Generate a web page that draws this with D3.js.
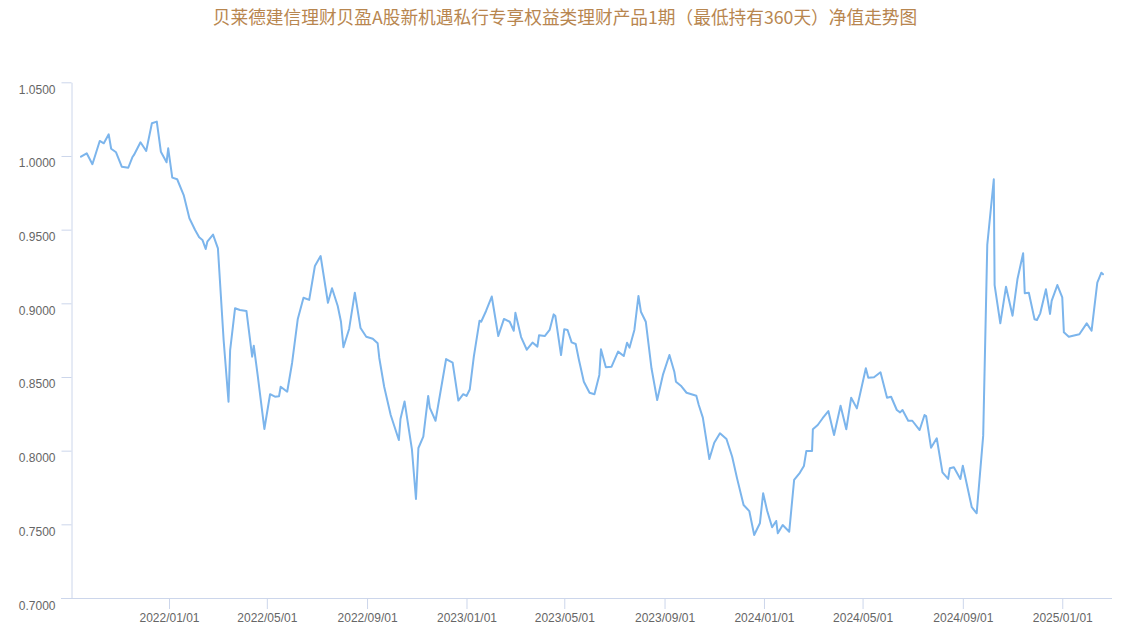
<!DOCTYPE html>
<html>
<head>
<meta charset="utf-8">
<script src="https://cdn.jsdelivr.net/npm/d3@7"></script>
<style>
  html, body { margin: 0; padding: 0; background: #ffffff; }
  svg { display: block; }
</style>
</head>
<body>
<div id="chart"></div>
<script>
const titleText = "贝莱德建信理财贝盈A股新机遇私行专享权益类理财产品1期（最低持有360天）净值走势图";

const dates = [
  "2021-09-15","2021-09-22","2021-09-29","2021-10-08","2021-10-13","2021-10-19","2021-10-22","2021-10-28",
  "2021-11-04","2021-11-12","2021-11-17","2021-11-19","2021-11-27","2021-12-04","2021-12-11","2021-12-17",
  "2021-12-22","2021-12-29","2021-12-31","2022-01-05","2022-01-11","2022-01-19","2022-01-26","2022-02-02",
  "2022-02-07","2022-02-11","2022-02-15","2022-02-17","2022-02-24","2022-03-02","2022-03-09","2022-03-15",
  "2022-03-17","2022-03-23","2022-03-29","2022-04-06","2022-04-13","2022-04-15","2022-04-20","2022-04-28",
  "2022-05-05","2022-05-11","2022-05-16","2022-05-18","2022-05-26","2022-06-01","2022-06-08","2022-06-15",
  "2022-06-22","2022-06-29","2022-07-06","2022-07-15","2022-07-20","2022-07-27","2022-07-31","2022-08-03",
  "2022-08-10","2022-08-17","2022-08-24","2022-08-31","2022-09-08","2022-09-14","2022-09-16","2022-09-22",
  "2022-09-30","2022-10-10","2022-10-12","2022-10-17","2022-10-26","2022-10-31","2022-11-03","2022-11-09",
  "2022-11-15","2022-11-17","2022-11-24","2022-12-07","2022-12-15","2022-12-22","2022-12-28","2023-01-01",
  "2023-01-05","2023-01-10","2023-01-17","2023-01-19","2023-01-25","2023-02-01","2023-02-09","2023-02-16",
  "2023-02-23","2023-02-28","2023-03-02","2023-03-09","2023-03-16","2023-03-23","2023-03-29","2023-03-31",
  "2023-04-07","2023-04-13","2023-04-18","2023-04-20","2023-04-27","2023-05-01","2023-05-05","2023-05-10",
  "2023-05-15","2023-05-19","2023-05-25","2023-06-01","2023-06-07","2023-06-13","2023-06-15","2023-06-21",
  "2023-06-28","2023-07-06","2023-07-13","2023-07-17","2023-07-20","2023-07-26","2023-07-31","2023-08-03",
  "2023-08-09","2023-08-16","2023-08-23","2023-08-30","2023-09-07","2023-09-13","2023-09-15","2023-09-21",
  "2023-09-28","2023-10-10","2023-10-13","2023-10-18","2023-10-26","2023-11-01","2023-11-08","2023-11-16",
  "2023-11-23","2023-11-29","2023-12-07","2023-12-14","2023-12-20","2023-12-27","2023-12-31","2024-01-05",
  "2024-01-11","2024-01-16","2024-01-18","2024-01-24","2024-02-01","2024-02-07","2024-02-14","2024-02-19",
  "2024-02-22","2024-02-29","2024-03-01","2024-03-07","2024-03-13","2024-03-20","2024-03-27","2024-04-04",
  "2024-04-11","2024-04-17","2024-04-24","2024-05-05","2024-05-08","2024-05-15","2024-05-23","2024-05-31",
  "2024-06-05","2024-06-12","2024-06-16","2024-06-19","2024-06-26","2024-07-01","2024-07-10","2024-07-16",
  "2024-07-18","2024-07-24","2024-07-31","2024-08-07","2024-08-14","2024-08-16","2024-08-21","2024-08-29",
  "2024-09-01","2024-09-12","2024-09-18","2024-09-26","2024-10-01","2024-10-09","2024-10-10","2024-10-17",
  "2024-10-24","2024-11-01","2024-11-07","2024-11-14","2024-11-16","2024-11-21","2024-11-28","2024-12-01",
  "2024-12-05","2024-12-12","2024-12-17","2024-12-19","2024-12-26","2025-01-01","2025-01-03","2025-01-09",
  "2025-01-22","2025-01-31","2025-02-06","2025-02-13","2025-02-18","2025-02-20"
];

const navs = [
  0.9995,1.0018,0.9944,1.0102,1.0086,1.0147,1.0049,1.0025,
  0.9927,0.9920,0.9991,1.0007,1.0093,1.0034,1.0222,1.0233,
  1.0029,0.9957,1.0052,0.9853,0.9842,0.9735,0.9577,0.9498,
  0.9448,0.9430,0.9369,0.9418,0.9466,0.9373,0.8751,0.8332,
  0.8683,0.8966,0.8955,0.8948,0.8638,0.8712,0.8502,0.8147,
  0.8383,0.8366,0.8369,0.8434,0.8400,0.8595,0.8894,0.9038,
  0.9023,0.9253,0.9321,0.9004,0.9102,0.8982,0.8875,0.8702,
  0.8826,0.9072,0.8832,0.8773,0.8760,0.8729,0.8629,0.8434,
  0.8242,0.8072,0.8215,0.8334,0.8011,0.7672,0.8018,0.8095,
  0.8371,0.8290,0.8203,0.8622,0.8598,0.8340,0.8383,0.8371,
  0.8415,0.8638,0.8882,0.8875,0.8948,0.9046,0.8778,0.8894,
  0.8875,0.8814,0.8936,0.8771,0.8685,0.8734,0.8706,0.8783,
  0.8778,0.8819,0.8925,0.8914,0.8649,0.8824,0.8819,0.8735,
  0.8724,0.8615,0.8468,0.8393,0.8383,0.8514,0.8688,0.8566,
  0.8570,0.8672,0.8642,0.8733,0.8699,0.8819,0.9050,0.8943,
  0.8875,0.8559,0.8344,0.8514,0.8649,0.8536,0.8468,0.8441,
  0.8393,0.8373,0.8310,0.8224,0.7943,0.8054,0.8118,0.8079,
  0.7959,0.7812,0.7631,0.7590,0.7428,0.7507,0.7711,0.7590,
  0.7480,0.7523,0.7439,0.7495,0.7450,0.7801,0.7850,0.7896,
  0.7998,0.7998,0.8145,0.8174,0.8220,0.8269,0.8106,0.8305,
  0.8145,0.8359,0.8287,0.8559,0.8495,0.8498,0.8532,0.8359,
  0.8366,0.8276,0.8260,0.8276,0.8203,0.8203,0.8140,0.8242,
  0.8235,0.8020,0.8084,0.7853,0.7808,0.7880,0.7887,0.7808,
  0.7898,0.7616,0.7575,0.8102,0.9396,0.9842,0.9124,0.8864,
  0.9113,0.8916,0.9163,0.9340,0.9068,0.9072,0.8892,0.8887,
  0.8932,0.9095,0.8928,0.9016,0.9124,0.9041,0.8803,0.8773,
  0.8790,0.8864,0.8814,0.9140,0.9208,0.9197
];

const xTickLabels = ["2022/01/01","2022/05/01","2022/09/01","2023/01/01","2023/05/01",
                     "2023/09/01","2024/01/01","2024/05/01","2024/09/01","2025/01/01"];
const yTicks = [0.70, 0.75, 0.80, 0.85, 0.90, 0.95, 1.00, 1.05];

const W = 1123, H = 633;
const parseDate = d3.timeParse("%Y-%m-%d");
const parseTick = d3.timeParse("%Y/%m/%d");
const data = dates.map((d, i) => ({ date: parseDate(d), value: navs[i] }));

const svg = d3.select("#chart").append("svg")
  .attr("width", W).attr("height", H)
  .style("font-family", "'Open Sans', 'Noto Sans', sans-serif");

const x = d3.scaleTime().domain(d3.extent(data, d => d.date)).range([81, 1103]);
const y = d3.scaleLinear().domain([0.70, 1.05]).range([598, 82.3]);

const axisColor = "#ccd6eb";
const labelColor = "#666666";

// Title
svg.append("text")
  .attr("x", 565).attr("y", 24)
  .attr("text-anchor", "middle")
  .style("font-family", "'Noto Sans CJK SC', sans-serif")
  .style("font-size", "17.7px")
  .style("fill", "#b8864f")
  .text(titleText);

// X axis
const xAxis = d3.axisBottom(x)
  .tickValues(xTickLabels.map(parseTick))
  .tickFormat(d3.timeFormat("%Y/%m/%d"))
  .tickSize(11)
  .tickSizeOuter(0);

const gx = svg.append("g").attr("transform", "translate(0,598)").call(xAxis);
gx.select(".domain").remove();
gx.insert("line", ":first-child")
  .attr("x1", 61).attr("x2", 1112).attr("y1", 0.5).attr("y2", 0.5)
  .attr("stroke", axisColor).attr("stroke-width", 1);
gx.selectAll(".tick line").attr("stroke", axisColor);
gx.selectAll(".tick text")
  .attr("y", 24).attr("dy", null)
  .style("font-size", "12px")
  .style("fill", labelColor);

// Y axis
const yAxis = d3.axisLeft(y)
  .tickValues(yTicks)
  .tickFormat(d3.format(".4f"))
  .tickSize(10)
  .tickSizeOuter(0);

const gy = svg.append("g").attr("transform", "translate(71.5,0)").call(yAxis);
gy.select(".domain").attr("stroke", axisColor);
gy.selectAll(".tick line").attr("stroke", axisColor);
gy.selectAll(".tick text")
  .attr("x", -16).attr("dy", null).attr("y", 11)
  .style("font-size", "12px")
  .style("fill", labelColor);

// Line
const line = d3.line().x(d => x(d.date)).y(d => y(d.value));
svg.append("path")
  .datum(data)
  .attr("d", line)
  .attr("fill", "none")
  .attr("stroke", "#7cb5ec")
  .attr("stroke-width", 2)
  .attr("stroke-linejoin", "round")
  .attr("stroke-linecap", "round");
</script>
</body>
</html>
